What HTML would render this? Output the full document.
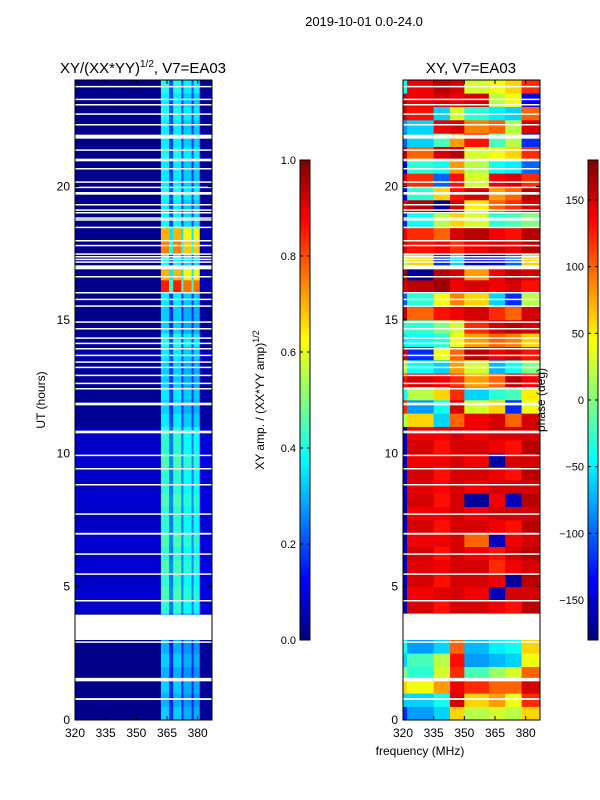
<!DOCTYPE html>
<html><head><meta charset="utf-8"><style>
body{margin:0;background:#fff;}
svg{display:block;font-family:"Liberation Sans",sans-serif;}
</style></head><body>
<svg id="fig" width="600" height="800" xmlns="http://www.w3.org/2000/svg">
<text x="364" y="26" font-size="13" text-anchor="middle">2019-10-01 0.0-24.0</text>
<text x="143" y="73" font-size="15" text-anchor="middle">XY/(XX*YY)<tspan font-size="10" dy="-6">1/2</tspan><tspan dy="6">, V7=EA03</tspan></text>
<text x="471" y="73" font-size="15" text-anchor="middle">XY, V7=EA03</text>
<g id="left"></g>
<g id="right"></g>
<g id="axes"></g>
<text x="420" y="755" font-size="12" text-anchor="middle">frequency (MHz)</text>
<text transform="translate(45,400) rotate(-90)" font-size="12" text-anchor="middle">UT (hours)</text>
<text transform="translate(264,400) rotate(-90)" font-size="12" text-anchor="middle">XY amp. / (XX*YY amp)<tspan font-size="9" dy="-5">1/2</tspan></text>
<text transform="translate(545,400) rotate(-90)" font-size="12" text-anchor="middle">phase (deg)</text>
</svg>
<script>
const hourTicks=[0,5,10,15,20];
const freqTicks=[320,335,350,365,380];
const ampTicks=[0.0,0.2,0.4,0.6,0.8,1.0];
const phaseTicks=[-150,-100,-50,0,50,100,150];
// channel edges (MHz) and amplitude band shape
const chanEdges=[320,362,366,368,372,373,377,378,381,387];
const chanShape=[0,1,0.5,1,0.5,0.9,0.5,0.9,0.05];
// peak amplitude per 0.5 h row, from 0 h to 24 h
const rowPeak=[0.33,0.3,0.33,0.3,0.33,0.3,0.3,0.3,0.42,0.45,0.42,0.45,0.42,0.45,0.42,0.42,0.45,0.42,0.42,0.45,0.42,0.42,0.36,0.33,0.36,0.33,0.33,0.36,0.4,0.33,0.33,0.36,0.85,0.7,0.38,0.75,0.7,0.38,0.36,0.4,0.36,0.36,0.4,0.36,0.36,0.4,0.36,0.4];
const rowBg=[0.01,0.01,0.01,0.01,0.01,0.01,0.01,0.01,0.07,0.08,0.07,0.08,0.07,0.08,0.07,0.07,0.08,0.07,0.07,0.08,0.07,0.07,0.02,0.02,0.02,0.02,0.03,0.05,0.02,0.02,0.01,0.01,0.01,0.01,0.01,0.01,0.01,0.01,0.01,0.01,0.01,0.01,0.01,0.01,0.01,0.01,0.01,0.01];
// phase (deg) per 0.5 h row; columns per phaseEdges
const phaseEdges=[320,322,335,343,350,362,370,378,387];
const phaseRows=[
[-120,-80,-60,60,20,30,20,60],[-60,-60,-40,150,60,80,40,120],[60,40,80,140,120,100,100,150],[0,-30,30,120,-20,10,30,100],
[-60,-20,20,130,-80,-70,-60,40],[-40,-80,-60,100,-70,-50,-40,60],[null,null,null,null,null,null,null,null],[null,null,null,null,null,null,null,null],
[-160,150,130,150,150,140,130,160],[-160,140,145,150,140,-160,150,150],[-160,150,130,150,150,140,-170,160],[-160,145,140,150,150,120,140,150],
[-160,150,130,150,140,130,150,160],[-160,140,140,150,100,-160,140,150],[-160,150,130,150,150,140,130,160],[-160,140,140,150,140,150,150,150],
[-160,150,130,150,-170,140,-160,160],[-160,145,135,150,140,150,150,150],[-160,150,130,150,150,140,130,160],[-160,140,140,150,140,-170,150,150],
[-160,150,130,150,150,140,130,160],[-160,140,140,150,140,150,150,150],[20,60,-60,100,140,150,100,150],[120,-80,-40,150,30,60,-120,40],
[-40,20,60,120,-60,-30,-20,50],[130,150,140,120,80,100,160,140],[20,-40,-60,80,30,-70,-40,0],[150,-120,40,100,160,140,150,130],
[-50,-40,-30,40,80,100,90,60],[-20,-30,0,30,120,150,160,150],[160,100,130,140,150,120,100,150],[-100,-30,40,90,60,-60,-120,20],
[150,160,170,140,150,140,150,130],[170,-170,160,150,80,140,160,150],[20,60,-120,-60,-150,-140,-100,60],[150,130,140,120,140,150,140,160],
[140,120,100,150,160,140,130,160],[-120,-40,20,60,30,-30,-20,0],[140,160,-170,150,50,100,120,150],[-140,-30,60,130,150,80,100,160],
[150,120,-100,130,30,140,150,120],[-150,-30,-40,80,20,-40,-50,-100],[160,100,150,160,30,40,60,120],[-100,-60,-20,80,130,-20,20,-120],
[-80,-60,140,150,90,100,20,150],[150,130,-60,30,-30,-50,-60,100],[160,140,150,140,150,20,40,-140],[-40,140,160,150,30,40,60,120]];
// flagged (white) time ranges in hours
const gaps=[[0.75,0.82],[1.45,1.58],[2.9,2.95],[3.0,3.95],[4.45,4.5],[5.45,5.5],[6.2,6.25],[6.95,7.02],[7.7,7.75],[8.8,8.85],[9.4,9.45],[9.9,9.95],[10.75,10.85],[11.8,11.9],[12.4,12.45],[12.6,12.65],[12.9,12.95],[13.2,13.25],[13.4,13.45],[13.65,13.7],[13.9,13.95],[14.1,14.15],[14.3,14.35],[14.65,14.7],[14.9,14.95],[15.5,15.55],[15.75,15.8],[16.0,16.05],[16.6,16.65],[16.9,17.05],[17.15,17.2],[17.25,17.3],[17.35,17.4],[17.45,17.5],[17.78,17.82],[17.95,18.0],[18.45,18.5],[18.73,18.78],[18.8,18.85],[19.0,19.05],[19.1,19.15],[19.3,19.35],[19.7,19.8],[19.95,20.0],[20.15,20.2],[20.65,20.7],[20.95,21.05],[21.35,21.4],[21.8,21.95],[22.3,22.35],[22.7,22.75],[23.06,23.1],[23.25,23.3],[23.74,23.78]];

const NS="http://www.w3.org/2000/svg";
const top0=80,bot0=720;
const yS=h=>bot0-(h/24)*(bot0-top0);
const panels=[{x0:75,x1:212},{x0:403,x1:540}];
const xS=(p,f)=>p.x0+(f-320)/(387-320)*(p.x1-p.x0);
function jet(v){v=Math.max(0,Math.min(1,v));
 const r=Math.max(0,Math.min(1,1.5-Math.abs(4*v-3)));
 const g=Math.max(0,Math.min(1,1.5-Math.abs(4*v-2)));
 const b=Math.max(0,Math.min(1,1.5-Math.abs(4*v-1)));
 return `rgb(${Math.round(r*255)},${Math.round(g*255)},${Math.round(b*255)})`;}
function mk(tag,attrs,parent){const e=document.createElementNS(NS,tag);for(const k in attrs)e.setAttribute(k,attrs[k]);parent.appendChild(e);return e;}
const L=document.getElementById('left'),R=document.getElementById('right'),A=document.getElementById('axes');
for(let i=0;i<rowPeak.length;i++){
 const y1=yS(i*0.5),y2=yS((i+1)*0.5);
 for(let c=0;c<chanShape.length;c++){
  const v=rowBg[i]+chanShape[c]*(rowPeak[i]-rowBg[i]);
  const r=mk('rect',{x:xS(panels[0],chanEdges[c]),y:y2,width:xS(panels[0],chanEdges[c+1])-xS(panels[0],chanEdges[c])+0.3,height:y1-y2+0.3,fill:jet(v)},L);
  
  
 }
 const pr=phaseRows[i];
 for(let c=0;c<pr.length;c++){
  if(pr[c]===null)continue;
  const r=mk('rect',{x:xS(panels[1],phaseEdges[c]),y:y2,width:xS(panels[1],phaseEdges[c+1])-xS(panels[1],phaseEdges[c])+0.3,height:y1-y2+0.3,fill:jet((pr[c]+180)/360)},R);
  
  
 }
}
for(const p of panels){
 for(const g of gaps){
  const r=mk('rect',{x:p.x0,y:yS(g[1]),width:p.x1-p.x0,height:Math.max(1.5,yS(g[0])-yS(g[1])),fill:'#fff'},A);
  
  
 }
 const fr=mk('rect',{x:p.x0,y:top0,width:p.x1-p.x0,height:bot0-top0,fill:'none',stroke:'#000','stroke-width':1},A);
 
 
 for(const h of hourTicks){
  const y=yS(h);
  mk('line',{x1:p.x0,x2:p.x0+4,y1:y,y2:y,stroke:'#000'},A);
  mk('line',{x1:p.x1,x2:p.x1-4,y1:y,y2:y,stroke:'#000'},A);
  const t=mk('text',{x:p.x0-5,y:y+4,'font-size':12,'text-anchor':'end'},A);t.textContent=h;
  
  
 }
 for(const f of freqTicks){
  const x=xS(p,f);
  mk('line',{x1:x,x2:x,y1:bot0,y2:bot0-4,stroke:'#000'},A);
  mk('line',{x1:x,x2:x,y1:top0,y2:top0+4,stroke:'#000'},A);
  const t=mk('text',{x:x,y:bot0+17,'font-size':12,'text-anchor':'middle'},A);t.textContent=f;
  
  
 }
}
// colorbars
const cbs=[{x:300,min:0,max:1,ticks:ampTicks,fmt:v=>v.toFixed(1),name:'amp-colorbar'},{x:588,min:-180,max:180,ticks:phaseTicks,fmt:v=>v<0?'\u2212'+(-v):''+v,name:'phase-colorbar'}];
const cbTop=160,cbBot=640;
for(const cb of cbs){
 const g=mk('g',{},A);
 
 
 for(let k=0;k<120;k++){
  const y=cbBot-(k+1)*(cbBot-cbTop)/120;
  mk('rect',{x:cb.x,y:y,width:10,height:(cbBot-cbTop)/120+0.5,fill:jet((k+0.5)/120)},g);
 }
 mk('rect',{x:cb.x,y:cbTop,width:10,height:cbBot-cbTop,fill:'none',stroke:'#000'},g);
 for(const v of cb.ticks){
  const y=cbBot-(v-cb.min)/(cb.max-cb.min)*(cbBot-cbTop);
  mk('line',{x1:cb.x,x2:cb.x+3,y1:y,y2:y,stroke:'#000'},g);
  mk('line',{x1:cb.x+10,x2:cb.x+7,y1:y,y2:y,stroke:'#000'},g);
  const t=mk('text',{x:cb.x-4,y:y+4,'font-size':11,'text-anchor':'end'},g);t.textContent=cb.fmt(v);
  
  
 }
}
</script>
</body></html>
